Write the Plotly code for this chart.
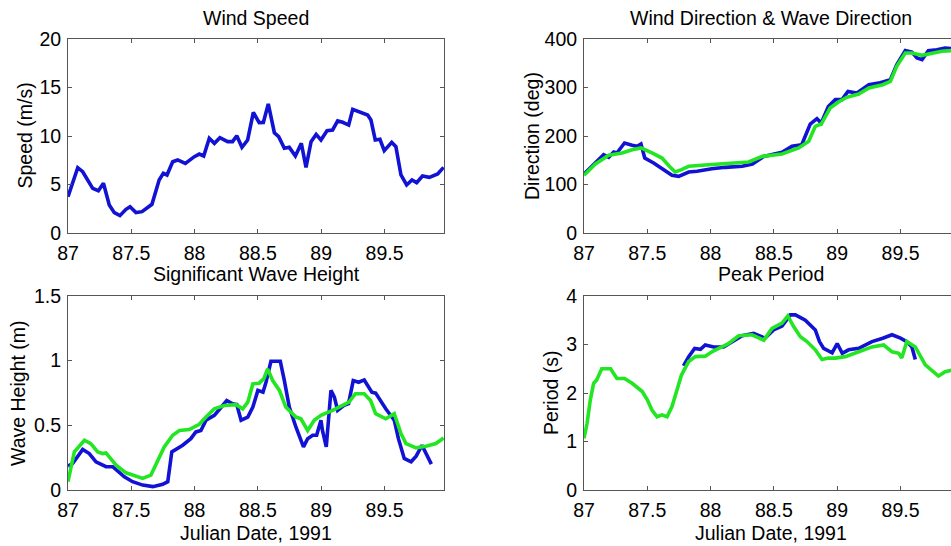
import plotly.graph_objects as go

# ---------------- data ----------------
ws_t = [87.0, 87.077, 87.116, 87.195, 87.24, 87.28, 87.326, 87.366, 87.41, 87.458, 87.49, 87.537,
        87.585, 87.663, 87.72, 87.753, 87.782, 87.827, 87.866, 87.927, 87.998, 88.037, 88.072,
        88.116, 88.156, 88.2, 88.261, 88.3, 88.333, 88.374, 88.419, 88.464, 88.51, 88.543, 88.582,
        88.63, 88.664, 88.709, 88.748, 88.796, 88.843, 88.88, 88.92, 88.96, 88.998, 89.046, 89.09,
        89.13, 89.17, 89.217, 89.249, 89.296, 89.367, 89.393, 89.427, 89.464, 89.498, 89.557, 89.59,
        89.63, 89.675, 89.717, 89.754, 89.8, 89.854, 89.92, 89.967]
wind_speed = [3.74, 6.73, 6.32, 4.6, 4.36, 5.12, 2.89, 2.1, 1.79, 2.44, 2.71, 2.1,
              2.2, 2.96, 5.46, 6.15, 5.98, 7.35, 7.53, 7.18, 7.87, 8.14, 7.94,
              9.76, 9.24, 9.83, 9.42, 9.42, 10.03, 8.83, 9.59, 12.44, 11.37, 11.4, 13.3,
              10.34, 9.93, 8.73, 8.83, 7.94, 9.24, 6.77, 9.42, 10.17, 9.59, 10.55, 10.62,
              11.55, 11.41, 11.13, 12.75, 12.51, 12.16, 11.65, 9.59, 9.66, 8.49, 9.35, 8.9,
              5.98, 4.95, 5.46, 5.19, 5.88, 5.74, 6.08, 6.77]

wd_t = [87.0, 87.063, 87.155, 87.195, 87.235, 87.26, 87.32, 87.38, 87.42, 87.45, 87.48, 87.55,
        87.63, 87.695, 87.748, 87.827, 87.893, 88.01, 88.117, 88.25, 88.33, 88.42, 88.564, 88.643,
        88.72, 88.787, 88.84, 88.874, 88.93, 88.985, 89.038, 89.085, 89.156, 89.25, 89.327, 89.42,
        89.47, 89.538, 89.59, 89.63, 89.67, 89.72, 89.787, 89.852, 89.9, 89.96]
wind_dir = [121.6, 137.5, 161.5, 156, 167, 165, 185.6, 180.8, 178.7, 183.5, 154.6, 144.3,
            130.6, 119, 116.9, 125.8, 127.2, 132.6, 135.4, 137.5, 142.3, 158, 166.4, 178.7,
            182, 224.7, 235.7, 226.8, 261, 275, 275, 292, 288.7, 305.8, 309, 316,
            347, 376, 373, 360.8, 357.5, 376, 378, 381.4, 380, 381]

vd_t = [87.0, 87.09, 87.195, 87.3, 87.38, 87.45, 87.537, 87.616, 87.674, 87.72, 87.77, 87.827,
        87.985, 88.143, 88.3, 88.41, 88.564, 88.696, 88.775, 88.827, 88.874, 88.944, 89.01, 89.075,
        89.17, 89.25, 89.36, 89.42, 89.47, 89.538, 89.59, 89.67, 89.75, 89.827, 89.9, 89.96]
wave_dir = [119, 142.3, 160.2, 165, 171.8, 175.3, 165, 154.6, 137.5, 125.8, 130.6, 137.5,
            140.8, 144.3, 146.4, 158, 163, 175.3, 189, 220, 224.7, 257.7, 270, 279.8,
            286.6, 299, 305.8, 312.7, 343.7, 371, 371, 366.4, 371, 374.6, 376, 377]

hb_t = [87.0, 87.037, 87.116, 87.168, 87.221, 87.3, 87.353, 87.445, 87.51, 87.59, 87.67, 87.748,
        87.788, 87.82, 87.906, 87.97, 88.01, 88.05, 88.09, 88.156, 88.2, 88.254, 88.3, 88.333,
        88.367, 88.42, 88.46, 88.5, 88.54, 88.564, 88.603, 88.677, 88.709, 88.748, 88.8, 88.86,
        88.893, 88.933, 88.964, 88.998, 89.01, 89.04, 89.077, 89.104, 89.13, 89.18, 89.216, 89.253,
        89.296, 89.34, 89.4, 89.43, 89.51, 89.577, 89.61, 89.656, 89.71, 89.75, 89.796, 89.827,
        89.87]
height_blue = [0.185, 0.205, 0.313, 0.282, 0.218, 0.18, 0.18, 0.102, 0.064, 0.038, 0.026, 0.044,
               0.064, 0.295, 0.346, 0.397, 0.449, 0.46, 0.54, 0.577, 0.628, 0.692, 0.667, 0.66,
               0.54, 0.564, 0.641, 0.77, 0.756, 0.833, 0.995, 0.995, 0.846, 0.641, 0.487, 0.333,
               0.397, 0.423, 0.423, 0.54, 0.46, 0.333, 0.77, 0.718, 0.615, 0.654, 0.667, 0.846,
               0.833, 0.851, 0.756, 0.749, 0.628, 0.54, 0.397, 0.244, 0.218, 0.262, 0.346, 0.282,
               0.2]

hg_t = [87.0, 87.05, 87.13, 87.18, 87.235, 87.274, 87.3, 87.38, 87.458, 87.51, 87.59, 87.655,
        87.708, 87.76, 87.827, 87.88, 87.958, 88.037, 88.09, 88.156, 88.235, 88.327, 88.38, 88.42,
        88.46, 88.51, 88.546, 88.577, 88.617, 88.67, 88.72, 88.8, 88.84, 88.893, 88.945, 88.998,
        89.09, 89.17, 89.22, 89.27, 89.34, 89.39, 89.43, 89.51, 89.577, 89.63, 89.67, 89.75,
        89.827, 89.906, 89.967]
height_green = [0.064, 0.295, 0.385, 0.359, 0.295, 0.282, 0.287, 0.192, 0.133, 0.115, 0.09, 0.115,
                0.23, 0.333, 0.423, 0.46, 0.467, 0.508, 0.564, 0.628, 0.654, 0.66, 0.628, 0.679,
                0.82, 0.826, 0.859, 0.936, 0.846, 0.77, 0.641, 0.564, 0.551, 0.46, 0.54, 0.577,
                0.615, 0.654, 0.679, 0.744, 0.744, 0.692, 0.59, 0.551, 0.59, 0.436, 0.359, 0.326,
                0.338, 0.359, 0.402]

pb_t = [87.786, 87.827, 87.874, 87.92, 87.958, 88.024, 88.103, 88.17, 88.25, 88.34, 88.43, 88.497,
        88.564, 88.63, 88.67, 88.748, 88.827, 88.86, 88.893, 88.96, 89.0, 89.04, 89.09, 89.17,
        89.275, 89.36, 89.433, 89.5, 89.55, 89.59, 89.617]
period_blue = [2.56, 2.75, 2.92, 2.9, 2.99, 2.95, 2.95, 3.06, 3.18, 3.23, 3.13, 3.3,
               3.38, 3.61, 3.61, 3.5, 3.3, 3.06, 2.92, 2.83, 3.02, 2.82, 2.89, 2.92,
               3.06, 3.13, 3.2, 3.13, 3.06, 2.95, 2.69]

pg_t = [87.0, 87.024, 87.05, 87.076, 87.1, 87.14, 87.21, 87.26, 87.32, 87.38, 87.46, 87.5,
        87.537, 87.577, 87.616, 87.656, 87.695, 87.735, 87.77, 87.827, 87.88, 87.958, 88.01, 88.064,
        88.143, 88.222, 88.327, 88.42, 88.485, 88.564, 88.61, 88.656, 88.709, 88.761, 88.827, 88.88,
        88.93, 88.985, 89.064, 89.17, 89.275, 89.367, 89.433, 89.486, 89.51, 89.55, 89.617, 89.696,
        89.75, 89.8, 89.853, 89.9, 89.96]
period_green = [1.065, 1.37, 1.86, 2.2, 2.27, 2.5, 2.5, 2.3, 2.3, 2.2, 2.03, 1.86,
                1.65, 1.51, 1.55, 1.51, 1.72, 2.1, 2.37, 2.65, 2.75, 2.76, 2.85, 2.92,
                3.02, 3.18, 3.2, 3.09, 3.33, 3.44, 3.59, 3.37, 3.16, 3.06, 2.89, 2.69,
                2.72, 2.72, 2.75, 2.85, 2.95, 2.99, 2.85, 2.82, 2.72, 3.06, 2.95, 2.58,
                2.47, 2.35, 2.44, 2.47, 2.5]

x_ticks = [87, 87.5, 88, 88.5, 89, 89.5]
x_ticktext = ["87", "87.5", "88", "88.5", "89", "89.5"]
speed_ticks = [0, 5, 10, 15, 20]
dir_ticks = [0, 100, 200, 300, 400]
height_ticks = [0, 0.5, 1, 1.5]
height_ticktext = ["0", "0.5", "1", "1.5"]
period_ticks = [0, 1, 2, 3, 4]

titles = ["Wind Speed", "Wind Direction & Wave Direction", "Significant Wave Height", "Peak Period"]
ylabels = ["Speed (m/s)", "Direction (deg)", "Wave Height (m)", "Period (s)"]
xlabel = "Julian Date, 1991"

# ---------------- layout geometry ----------------
W, H = 951, 546
BLUE = "#1212d4"
GREEN = "#22e622"
FONT = "Liberation Sans, Arial, Helvetica, sans-serif"
FS = 19.5
AXC = "#555555"


def px_x(p):
    return p / W


def px_y(p):
    return 1 - p / H


xl = [px_x(68), px_x(444)]
xr = [px_x(584), 1.0]
yt = [px_y(233), px_y(39)]
yb = [px_y(490), px_y(296)]
left_range = [87, 89.97]
right_range = [87, 87 + (951 - 584) * 2.97 / 376]

fig = go.Figure()
lw = 3.6
fig.add_trace(go.Scatter(x=ws_t, y=wind_speed, mode="lines", line=dict(color=BLUE, width=lw),
                         xaxis="x", yaxis="y"))
fig.add_trace(go.Scatter(x=wd_t, y=wind_dir, mode="lines", line=dict(color=BLUE, width=lw),
                         xaxis="x2", yaxis="y2"))
fig.add_trace(go.Scatter(x=vd_t, y=wave_dir, mode="lines", line=dict(color=GREEN, width=lw),
                         xaxis="x2", yaxis="y2"))
fig.add_trace(go.Scatter(x=hb_t, y=height_blue, mode="lines", line=dict(color=BLUE, width=lw),
                         xaxis="x3", yaxis="y3"))
fig.add_trace(go.Scatter(x=hg_t, y=height_green, mode="lines", line=dict(color=GREEN, width=lw),
                         xaxis="x3", yaxis="y3"))
fig.add_trace(go.Scatter(x=pb_t, y=period_blue, mode="lines", line=dict(color=BLUE, width=lw),
                         xaxis="x4", yaxis="y4"))
fig.add_trace(go.Scatter(x=pg_t, y=period_green, mode="lines", line=dict(color=GREEN, width=lw),
                         xaxis="x4", yaxis="y4"))

tickfont = dict(family=FONT, size=FS, color="black")


def xaxis(dom, rng, anchor):
    return dict(domain=dom, range=rng, anchor=anchor, tickvals=x_ticks, ticktext=x_ticktext,
                ticks="inside", ticklen=4, tickcolor=AXC, showline=True, linecolor=AXC,
                linewidth=1, mirror="ticks", showgrid=False, zeroline=False, tickfont=tickfont,
                fixedrange=True, automargin=False, ticklabelstandoff=3)


def yaxis(dom, rng, anchor, vals, text, mirror):
    return dict(domain=dom, range=rng, anchor=anchor, tickvals=vals, ticktext=text,
                ticks="inside", ticklen=4, tickcolor=AXC, showline=True, linecolor=AXC,
                linewidth=1, mirror=mirror, showgrid=False, zeroline=False, tickfont=tickfont,
                fixedrange=True, automargin=False, ticklabelstandoff=2)


fig.update_layout(
    template="none",
    width=W, height=H, margin=dict(l=0, r=0, t=0, b=0, autoexpand=False),
    paper_bgcolor="white", plot_bgcolor="white", showlegend=False,
    font=dict(family=FONT, size=FS, color="black"),
    xaxis=xaxis(xl, left_range, "y"),
    yaxis=yaxis(yt, [0, 20], "x", speed_ticks, [str(v) for v in speed_ticks], "ticks"),
    xaxis2=xaxis(xr, right_range, "y2"),
    yaxis2=yaxis(yt, [0, 400], "x2", dir_ticks, [str(v) for v in dir_ticks], False),
    xaxis3=xaxis(xl, left_range, "y3"),
    yaxis3=yaxis(yb, [0, 1.5], "x3", height_ticks, height_ticktext, "ticks"),
    xaxis4=xaxis(xr, right_range, "y4"),
    yaxis4=yaxis(yb, [0, 4], "x4", period_ticks, [str(v) for v in period_ticks], False),
)

ann = []
# titles
for txt, cx, cy in [(titles[0], 256, 18), (titles[1], 771, 18),
                    (titles[2], 256, 274), (titles[3], 771, 274)]:
    ann.append(dict(text=txt, x=px_x(cx), y=px_y(cy), xref="paper", yref="paper",
                    xanchor="center", yanchor="middle", showarrow=False,
                    font=dict(family=FONT, size=FS, color="black")))
# y labels
for txt, cx, cy in [(ylabels[0], 24.5, 136), (ylabels[1], 532, 136),
                    (ylabels[2], 18, 393), (ylabels[3], 551, 393)]:
    ann.append(dict(text=txt, x=px_x(cx), y=px_y(cy), xref="paper", yref="paper",
                    xanchor="center", yanchor="middle", textangle=-90, showarrow=False,
                    font=dict(family=FONT, size=FS, color="black")))
# x labels
for cx in [256, 771]:
    ann.append(dict(text=xlabel, x=px_x(cx), y=px_y(533), xref="paper", yref="paper",
                    xanchor="center", yanchor="middle", showarrow=False,
                    font=dict(family=FONT, size=FS, color="black")))
fig.update_layout(annotations=ann)

fig.write_html("out.html", config={"displayModeBar": False},
               post_script="document.body.style.margin='0px';document.body.style.overflow='hidden';")
